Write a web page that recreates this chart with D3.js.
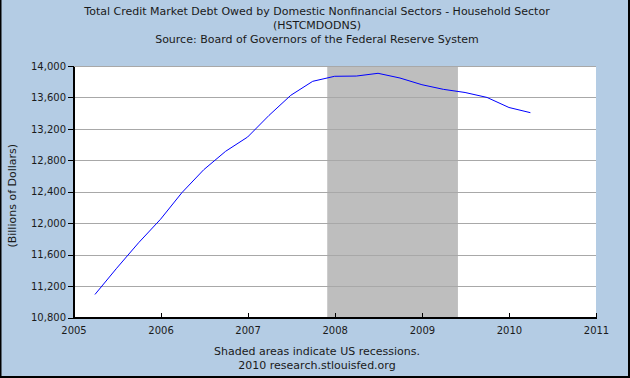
<!DOCTYPE html>
<meta charset="utf-8">
<style>
body { margin: 0; background: #fff; }
svg { display: block; }
text { font-family: "DejaVu Sans", Verdana, sans-serif; fill: #1a1a1a; }
.axis path, .axis line { stroke: #000; shape-rendering: crispEdges; }
.axis text { font-size: 10px; }
.grid line { stroke: #a8a8a8; shape-rendering: crispEdges; }
.line { fill: none; stroke: #0000ff; stroke-width: 1px; }
</style>
<body>
<svg width="630" height="378"></svg>
<script src="https://d3js.org/d3.v7.min.js"></script>
<script>
// quarterly household debt, billions of dollars
var dates = ["2005-04","2005-07","2005-10","2006-01","2006-04","2006-07","2006-10",
             "2007-01","2007-04","2007-07","2007-10","2008-01","2008-04","2008-07",
             "2008-10","2009-01","2009-04","2009-07","2009-10","2010-01","2010-04"];
var debt = [11093, 11427, 11751, 12050, 12390, 12680, 12915,
            13096, 13372, 13627, 13805, 13869, 13872, 13907,
            13847, 13762, 13703, 13663, 13600, 13472, 13406];
var recessions = [["2007-12", "2009-06"]];
var yTicks = [10800, 11200, 11600, 12000, 12400, 12800, 13200, 13600, 14000];
var titleLines = ["Total Credit Market Debt Owed by Domestic Nonfinancial Sectors - Household Sector",
                  "(HSTCMDODNS)",
                  "Source: Board of Governors of the Federal Reserve System"];
var footLines = ["Shaded areas indicate US recessions.", "2010 research.stlouisfed.org"];

var svg = d3.select("svg"),
    W = 630, H = 378,
    pLeft = 73.5, pRight = 596, pTop = 66, pBottom = 317.5;

var parse = d3.timeParse("%Y-%m");
var data = dates.map(function(d, i) { return {date: parse(d), value: debt[i]}; });

var x = d3.scaleTime()
    .domain([new Date(2005, 0, 1), new Date(2011, 0, 1)])
    .range([pLeft, pRight]);
var y = d3.scaleLinear()
    .domain([10800, 14000])
    .range([pBottom, pTop]);

// background + plot area
svg.append("rect").attr("width", W).attr("height", H).attr("fill", "#b4cce4");
svg.append("rect").attr("x", pLeft).attr("y", pTop)
    .attr("width", pRight - pLeft).attr("height", pBottom - pTop).attr("fill", "#fff");

svg.selectAll(".rec")
    .data(recessions)
  .enter().append("rect")
    .attr("class", "rec")
    .attr("x", function(d) { return x(parse(d[0])); })
    .attr("y", pTop)
    .attr("width", function(d) { return x(parse(d[1])) - x(parse(d[0])); })
    .attr("height", pBottom - pTop)
    .attr("fill", "#bebebe");

svg.append("g")
    .attr("class", "grid")
  .selectAll("line")
    .data(yTicks.slice(1))
  .enter().append("line")
    .attr("x1", pLeft).attr("x2", pRight)
    .attr("y1", function(d) { return Math.round(y(d)) + 0.5; })
    .attr("y2", function(d) { return Math.round(y(d)) + 0.5; });

svg.append("path")
    .datum(data)
    .attr("class", "line")
    .attr("d", d3.line()
      .x(function(d) { return x(d.date); })
      .y(function(d) { return y(d.value); }));

svg.append("g")
    .attr("class", "axis")
    .attr("transform", "translate(" + pLeft + ",0)")
    .call(d3.axisLeft(y).tickValues(yTicks).tickFormat(d3.format(","))
      .tickSize(6).tickSizeOuter(0).tickPadding(1.5));

svg.append("g")
    .attr("class", "axis")
    .attr("transform", "translate(0," + pBottom + ")")
    .call(d3.axisBottom(x).ticks(d3.timeYear.every(1)).tickFormat(d3.timeFormat("%Y"))
      .tickSize(-5).tickSizeOuter(0).tickPadding(9.5));

svg.selectAll(".axis .domain").attr("stroke-width", 1.5);

// titles
svg.append("g").selectAll("text")
    .data(titleLines)
  .enter().append("text")
    .attr("x", 317)
    .attr("y", function(d, i) { return 15 + i * 14.2; })
    .attr("text-anchor", "middle")
    .attr("font-size", "11px")
    .text(function(d) { return d; });

svg.append("g").selectAll("text")
    .data(footLines)
  .enter().append("text")
    .attr("x", 317)
    .attr("y", function(d, i) { return 355 + i * 14.2; })
    .attr("text-anchor", "middle")
    .attr("font-size", "11px")
    .text(function(d) { return d; });

svg.append("text")
    .attr("transform", "translate(16," + ((pTop + pBottom) / 2 + 4) + ") rotate(-90)")
    .attr("text-anchor", "middle")
    .attr("font-size", "11px")
    .text("(Billions of Dollars)");

// outer border
svg.append("path")
    .attr("d", "M0.5,0V" + H + "M" + (W - 1) + ",0V" + H + "M0," + (H - 1) + "H" + W)
    .attr("stroke", "#000").attr("stroke-width", 2).attr("fill", "none");
</script>
